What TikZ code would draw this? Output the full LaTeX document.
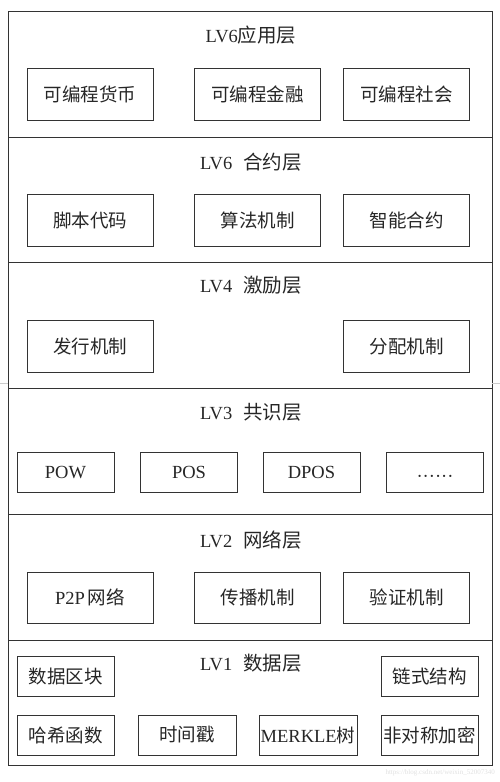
\documentclass[tikz,border=0pt]{standalone}
\usepackage{fontspec}
\setmainfont{Liberation Serif}
\newfontfamily\cjk{Noto Sans CJK SC}
\newcommand{\zh}[1]{{\cjk #1}}
\begin{document}
\begin{tikzpicture}[x=1pt,y=-1pt,
  layer/.style={draw=black!80, line width=1.1pt, minimum width=484pt, inner sep=0pt, anchor=north west},
  item/.style={draw=black!80, line width=0.8pt, inner sep=0pt, text=black!85, font=\fontsize{18.5}{21}\selectfont},
  wide/.style={item, minimum width=126pt, minimum height=52pt},
  small/.style={item, minimum width=97pt, minimum height=40pt},
  caps/.style={text height=12pt, text depth=0pt},
  title/.style={inner sep=0pt, text=black!85, font=\fontsize{18.5}{21}\selectfont}]
\useasboundingbox (0,0) rectangle (500,782);
% layers
\node[layer, minimum height=126pt] (Lapp) at (8,11) {};
\node[layer, minimum height=125pt] (Lcon) at (8,137) {};
\node[layer, minimum height=126pt] (Linc) at (8,262) {};
\node[layer, minimum height=126pt] (Lcons) at (8,388) {};
\node[layer, minimum height=126pt] (Lnet) at (8,514) {};
\node[layer, minimum height=125pt] (Ldat) at (8,640) {};
% titles
\node[title] (Tapp) at (251,35) {LV6{\cjk\fontsize{19.5}{21}\selectfont 应用层}};
\node[title] (Tcon) at (251,162) {LV6\hspace{0.6em}{\cjk\fontsize{19.5}{21}\selectfont 合约层}};
\node[title] (Tinc) at (251,285) {LV4\hspace{0.6em}{\cjk\fontsize{19.5}{21}\selectfont 激励层}};
\node[title] (Tcons) at (251,412) {LV3\hspace{0.6em}{\cjk\fontsize{19.5}{21}\selectfont 共识层}};
\node[title] (Tnet) at (251,540) {LV2\hspace{0.6em}{\cjk\fontsize{19.5}{21}\selectfont 网络层}};
\node[title] (Tdat) at (251,663) {LV1\hspace{0.6em}{\cjk\fontsize{19.5}{21}\selectfont 数据层}};
% application layer
\node[wide] (a1) at (90,94) {\zh{可编程货币}};
\node[wide] (a2) at (257.5,94) {\zh{可编程金融}};
\node[wide] (a3) at (406.5,94) {\zh{可编程社会}};
% contract layer
\node[wide] (c1) at (90,220) {\zh{脚本代码}};
\node[wide] (c2) at (257.5,220) {\zh{算法机制}};
\node[wide] (c3) at (406.5,220) {\zh{智能合约}};
% incentive layer
\node[wide] (i1) at (90,346) {\zh{发行机制}};
\node[wide] (i2) at (406.5,346) {\zh{分配机制}};
% consensus layer
\node[small, caps] (s1) at (65.5,472) {POW};
\node[small, caps] (s2) at (189,472) {POS};
\node[small, caps] (s3) at (311.5,472) {DPOS};
\node[small] (s4) at (435,472) {\raisebox{-0.55em}[0pt][0pt]{\textperiodcentered\textperiodcentered\textperiodcentered\textperiodcentered\textperiodcentered\textperiodcentered}};
% network layer
\node[wide, minimum height=51pt] (n1) at (90,597.5) {P2P\,\zh{网络}};
\node[wide, minimum height=51pt] (n2) at (257.5,597.5) {\zh{传播机制}};
\node[wide, minimum height=51pt] (n3) at (406.5,597.5) {\zh{验证机制}};
% data layer
\node[small] (d1) at (65.5,676) {\zh{数据区块}};
\node[small] (d2) at (429.5,676) {\zh{链式结构}};
\node[small] (d3) at (65.5,735) {\zh{哈希函数}};
\node[small, minimum width=98pt] (d4) at (187,735) {\zh{时间戳}};
\node[small, minimum width=98pt] (d5) at (308,735) {MERKLE\zh{树}};
\node[small] (d6) at (429.5,735) {\zh{非对称加密}};
% scan artefacts
\draw[black!20, line width=0.6pt] (0,383) -- (8,383);
\draw[black!20, line width=0.6pt] (492,383) -- (500,383);
\node[inner sep=0pt, text=black!12, font=\fontsize{7}{8}\selectfont, anchor=east] (wm) at (495,773) {https://blog.csdn.net/weixin\_52007340};
\end{tikzpicture}
\end{document}
